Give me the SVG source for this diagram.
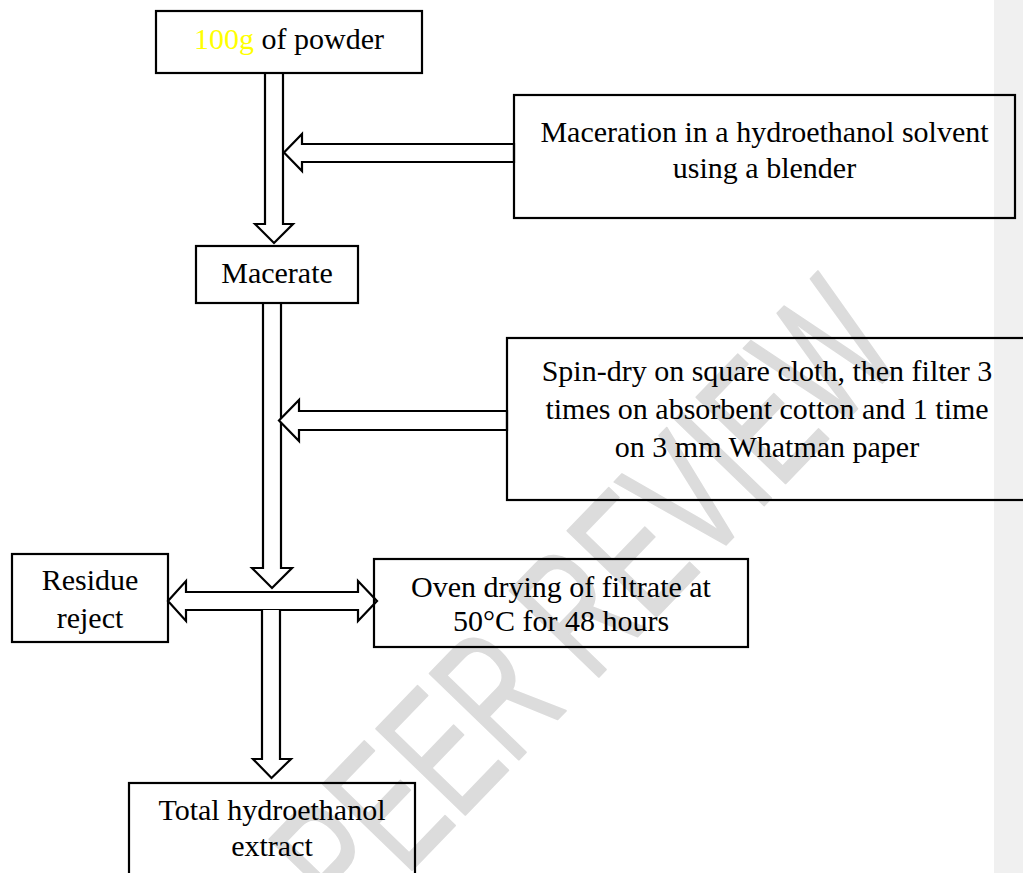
<svg xmlns="http://www.w3.org/2000/svg" width="1023" height="873" viewBox="0 0 1023 873">
  <style>
    .box { fill: none; stroke: #000; stroke-width: 2.2; }
    .arr { fill: #fff; stroke: #000; stroke-width: 2.2; stroke-linejoin: miter; }
    .t { font-family: "Liberation Serif", "Times New Roman", serif; font-size: 30px; fill: #000; text-anchor: middle; }
    .wm { font-family: "Liberation Sans", Arial, sans-serif; font-size: 180px; fill: #dcdcdc; stroke: #dcdcdc; stroke-width: 2; stroke-linejoin: round; }
  </style>
  <rect x="0" y="0" width="1023" height="873" fill="#fff"/>
  <rect x="994" y="0" width="29" height="873" fill="#f0f0f0"/>
  <g id="watermark">
    <text class="wm" transform="translate(45,1250) rotate(-46) scale(0.64,1)">UNDER PEER REVIEW</text>
  </g>
  <g id="connectors">
    <polygon class="arr" points="265,73 283,73 283,224 293,224 274,243 255,224 265,224 265,73"/>
    <polygon class="arr" points="514,144 302,144 302,134 284,152.5 302,171 302,162 514,162"/>
    <polygon class="arr" points="263,303 281,303 281,568 292,568 272,588 252,568 263,568 263,303"/>
    <polygon class="arr" points="507,411 299,411 299,400 279,420.5 299,441 299,430 507,430"/>
    <polygon class="arr" points="168,601 186,581 186,592 358,592 358,581 377,601 358,621 358,610 186,610 186,621"/>
    <polyline class="arr" points="262,610 262,759 253,759 271.5,778 291,759 280,759 280,610"/>
  </g>
  <g id="n-powder">
    <rect class="box" x="156" y="11" width="266" height="62"/>
    <text class="t" x="289" y="49"><tspan fill="#ffff00">100g</tspan> of powder</text>
  </g>
  <g id="n-maceration">
    <rect class="box" x="514" y="95" width="501" height="123"/>
    <text class="t" x="764.5" y="142">Maceration in a hydroethanol solvent</text>
    <text class="t" x="764.5" y="178">using a blender</text>
  </g>
  <g id="n-macerate">
    <rect class="box" x="196" y="246" width="162" height="57"/>
    <text class="t" x="277" y="283">Macerate</text>
  </g>
  <g id="n-spindry">
    <rect class="box" x="507" y="338" width="540" height="162"/>
    <text class="t" x="767" y="381">Spin-dry on square cloth, then filter 3</text>
    <text class="t" x="767" y="419">times on absorbent cotton and 1 time</text>
    <text class="t" x="767" y="457">on 3 mm Whatman paper</text>
  </g>
  <g id="n-residue">
    <rect class="box" x="12" y="554" width="156" height="88"/>
    <text class="t" x="90" y="590">Residue</text>
    <text class="t" x="90" y="628">reject</text>
  </g>
  <g id="n-oven">
    <rect class="box" x="374" y="559" width="374" height="88"/>
    <text class="t" x="561" y="597">Oven drying of filtrate at</text>
    <text class="t" x="561" y="631">50°C for 48 hours</text>
  </g>
  <g id="n-total">
    <rect class="box" x="129" y="783" width="286" height="110"/>
    <text class="t" x="272" y="820">Total hydroethanol</text>
    <text class="t" x="272" y="856">extract</text>
  </g>
</svg>
